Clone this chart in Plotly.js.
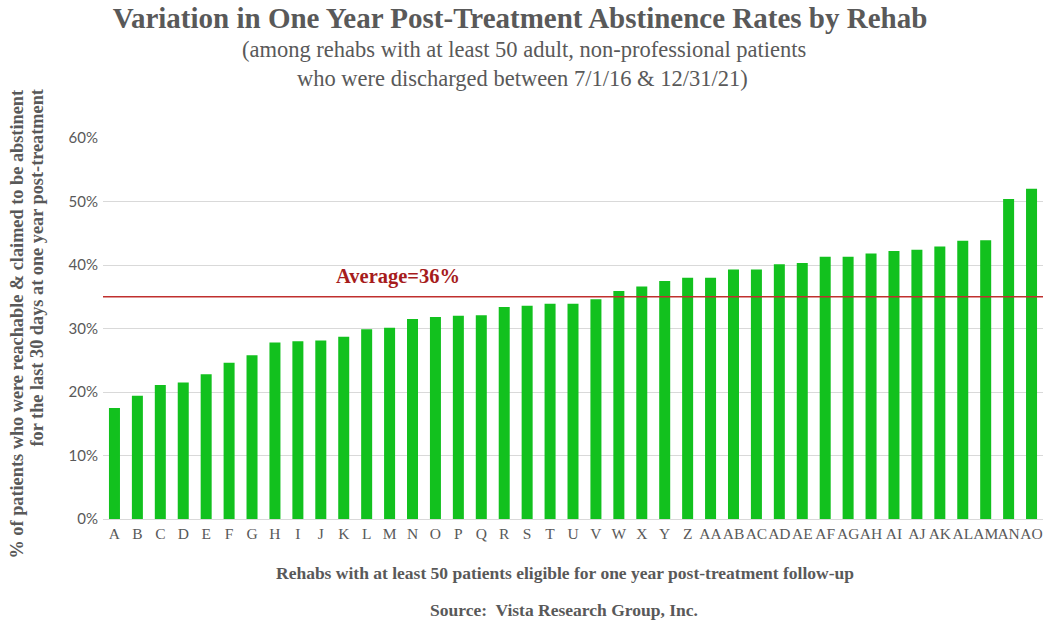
<!DOCTYPE html>
<html>
<head>
<meta charset="utf-8">
<script src="https://cdn.plot.ly/plotly-3.0.1.min.js"></script>
<style>html,body{margin:0;padding:0;background:#fff;}#chart{width:1043px;height:622px;}</style>
</head>
<body>
<div id="chart"></div>
<script>
var rehabs = ["A","B","C","D","E","F","G","H","I","J","K","L","M","N","O","P","Q","R","S","T","U","V","W","X","Y","Z",
  "AA","AB","AC","AD","AE","AF","AG","AH","AI","AJ","AK","AL","AM","AN","AO"];
var rates = [0.175,0.194,0.211,0.215,0.228,0.246,0.258,0.278,0.280,0.281,0.287,0.299,0.301,0.315,0.318,0.320,0.321,0.334,0.336,0.339,0.339,0.346,0.359,0.366,0.375,0.380,
  0.380,0.393,0.393,0.401,0.403,0.413,0.413,0.418,0.422,0.424,0.429,0.438,0.439,0.504,0.520];
var averageLine = 0.35;
var averageLabel = "Average=36%";
var yTicks = [0,0.1,0.2,0.3,0.4,0.5,0.6];

var grey = "#595959";
var serif = "Liberation Serif, DejaVu Serif, serif";

var trace = {
  type: "bar",
  x: rehabs,
  y: rates,
  marker: {color: "#12c11e"},
  hoverinfo: "x+y"
};

var layout = {
  width: 1043, height: 622,
  margin: {l: 103, r: 0, t: 138, b: 103},
  paper_bgcolor: "#fff", plot_bgcolor: "#fff",
  showlegend: false,
  bargap: 0.52,
  title: {
    text: "<b>Variation in One Year Post-Treatment Abstinence Rates by Rehab</b>",
    font: {family: serif, size: 29, color: grey},
    x: (520)/1043, xref: "container", xanchor: "center",
    y: 1 - 18/622, yref: "container", yanchor: "middle"
  },
  xaxis: {
    type: "category",
    tickfont: {family: serif, size: 15.5, color: grey},
    showgrid: false,
    showline: true, linecolor: "#d9d9d9", linewidth: 1,
    ticks: "", tickangle: 0
  },
  yaxis: {
    range: [0, 0.6],
    tickvals: yTicks,
    tickformat: ".0%",
    tickfont: {family: "Lato, Liberation Sans, sans-serif", size: 15, color: grey},
    gridcolor: "#d9d9d9", gridwidth: 1,
    zeroline: false,
    ticks: "", ticklabelstandoff: 4
  },
  shapes: [{
    type: "line", xref: "paper", x0: 0, x1: 1, yref: "y", y0: averageLine, y1: averageLine,
    line: {color: "#c0302e", width: 1.3}
  }],
  annotations: [
    {text: "(among rehabs with at least 50 adult, non-professional patients", xref: "paper", yref: "paper",
     x: (524-103)/940, y: (519-50)/381, xanchor: "center", yanchor: "middle", showarrow: false,
     font: {family: serif, size: 22.5, color: grey}},
    {text: "who were discharged between 7/1/16 &amp; 12/31/21)", xref: "paper", yref: "paper",
     x: (522-103)/940, y: (519-78)/381, xanchor: "center", yanchor: "middle", showarrow: false,
     font: {family: serif, size: 22.5, color: grey}},
    {text: "<b>" + averageLabel + "</b>", xref: "paper", yref: "paper",
     x: (398-103)/940, y: (519-276)/381, xanchor: "center", yanchor: "middle", showarrow: false,
     font: {family: serif, size: 20.5, color: "#a61c1c"}},
    {text: "<b>% of patients who were reachable &amp; claimed to be abstinent</b>", xref: "paper", yref: "paper",
     x: (16-103)/940, y: (519-88)/381, xanchor: "center", yanchor: "top", textangle: -90, showarrow: false,
     font: {family: serif, size: 18.3, color: grey}},
    {text: "<b>for the last 30 days at one year post-treatment</b>", xref: "paper", yref: "paper",
     x: (36-103)/940, y: (519-88)/381, xanchor: "center", yanchor: "top", textangle: -90, showarrow: false,
     font: {family: serif, size: 18.3, color: grey}},
    {text: "<b>Rehabs with at least 50 patients eligible for one year post-treatment follow-up</b>", xref: "paper", yref: "paper",
     x: (565-103)/940, y: (519-573)/381, xanchor: "center", yanchor: "middle", showarrow: false,
     font: {family: serif, size: 17.5, color: grey}},
    {text: "<b>Source:  Vista Research Group, Inc.</b>", xref: "paper", yref: "paper",
     x: (564-103)/940, y: (519-610)/381, xanchor: "center", yanchor: "middle", showarrow: false,
     font: {family: serif, size: 17.5, color: grey}}
  ]
};

Plotly.newPlot("chart", [trace], layout, {displayModeBar: false, responsive: false});
</script>
</body>
</html>
